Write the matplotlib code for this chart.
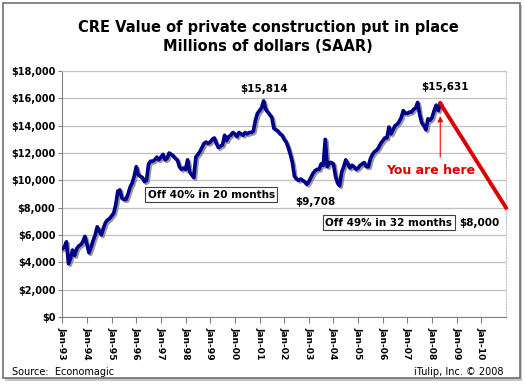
import numpy as np
import matplotlib.pyplot as plt
import matplotlib.patheffects as pe
from matplotlib.patches import Rectangle

# monthly values, Jan-93 .. May-08 (millions of dollars, SAAR)
v1993 = [5000, 5100, 5500, 3900, 4300, 4900, 4500, 5000, 5200, 5300, 5500, 5900]
v1994 = [5300, 4700, 5100, 5600, 6000, 6600, 6300, 6000, 6500, 6900, 7100, 7200]
v1995 = [7400, 7600, 8200, 9200, 9300, 8700, 8600, 8600, 9000, 9500, 9800, 10300]
v1996 = [11000, 10400, 10300, 10200, 9900, 10000, 11200, 11400, 11400, 11500, 11700, 11500]
v1997 = [11700, 11900, 11500, 11600, 12000, 11900, 11800, 11600, 11500, 11000, 10800, 10900]
v1998 = [10800, 11500, 10600, 10400, 10200, 11700, 11900, 12100, 12400, 12700, 12800, 12700]
v1999 = [12800, 13000, 13100, 12700, 12400, 12500, 12600, 13300, 12900, 13200, 13300, 13500]
v2000 = [13400, 13200, 13500, 13400, 13300, 13500, 13400, 13500, 13500, 13600, 14400, 14900]
v2001 = [15100, 15300, 15814, 15200, 15000, 14800, 14600, 13800, 13700, 13600, 13400, 13300]
v2002 = [13000, 12800, 12400, 11900, 11300, 10300, 10100, 10000, 10100, 10000, 9900, 9708]
v2003 = [9900, 10200, 10500, 10700, 10800, 10800, 11200, 11100, 13000, 11000, 11300, 11300]
v2004 = [11200, 10300, 9800, 9600, 10600, 11000, 11500, 11200, 10900, 11100, 11000, 10800]
v2005 = [10900, 11100, 11200, 11300, 11000, 11000, 11600, 11900, 12100, 12200, 12400, 12700]
v2006 = [12900, 13100, 13100, 13900, 13400, 13700, 14000, 14100, 14300, 14600, 15100, 14900]
v2007 = [14900, 15000, 15000, 15200, 15300, 15700, 14800, 14200, 14000, 13700, 14500, 14400]
v2008 = [14600, 15100, 15500, 15100, 15631]

values = (v1993 + v1994 + v1995 + v1996 + v1997 + v1998 + v1999 + v2000 +
          v2001 + v2002 + v2003 + v2004 + v2005 + v2006 + v2007 + v2008)
months = np.arange(len(values))

# projection: 15,631 down to 8,000 over 32 months
proj_months = [len(values) - 1, len(values) - 1 + 32]
proj_values = [15631, 8000]

year_labels = ['Jan-%02d' % (y % 100) for y in range(1993, 2011)]
y_ticks = list(range(0, 18001, 2000))

fig = plt.figure(figsize=(5.25, 3.84), dpi=100)
W, H = 525, 384

# outer frame with shadow
fig.patches.append(Rectangle((5 / W, 1 - 381 / H), 517 / W, 376 / H, transform=fig.transFigure,
                             facecolor='#c8c8c8', edgecolor='none', zorder=0))
fig.patches.append(Rectangle((3 / W, 1 - 378 / H), 517 / W, 375 / H, transform=fig.transFigure,
                             facecolor='white', edgecolor='#707070', linewidth=1.2, zorder=1))

ax = fig.add_axes([62.3 / W, 1 - 317 / H, (506 - 62.3) / W, (317 - 71) / H])
ax.set_zorder(2)
ax.set_xlim(0, proj_months[1])
ax.set_ylim(0, 18000)

ax.grid(axis='y', color='#c0c0c0', linewidth=0.9)
ax.set_axisbelow(True)

shadow = [pe.SimpleLineShadow(offset=(1.2, -1.2), shadow_color='#808080', alpha=0.8), pe.Normal()]
ax.plot(months, values, color='#00008b', linewidth=2.6, solid_joinstyle='round',
        path_effects=shadow, zorder=3)
ax.plot(proj_months, proj_values, color='#dd0000', linewidth=2.8, zorder=3, clip_on=False)

ax.set_yticks(y_ticks)
ax.set_yticklabels(['${:,}'.format(t) for t in y_ticks], fontsize=7, fontweight='bold')
ax.set_xticks(np.arange(0, 12 * len(year_labels), 12))
ax.set_xticklabels(year_labels, rotation=-90, fontsize=6.6, fontweight='bold')
ax.tick_params(axis='y', length=3, color='#808080', pad=2)
ax.tick_params(axis='x', length=4, color='#808080', pad=3)

for s in ['top', 'right']:
    ax.spines[s].set_color('#c0c0c0')
    ax.spines[s].set_linestyle(':')
for s in ['left', 'bottom']:
    ax.spines[s].set_color('#808080')

# annotations
ax.text(98, 16300, '$15,814', ha='center', va='bottom', fontsize=7.5, fontweight='bold')
ax.text(123, 8400, '$9,708', ha='center', va='center', fontsize=7.5, fontweight='bold')
ax.text(186.5, 16500, '$15,631', ha='center', va='bottom', fontsize=7.5, fontweight='bold')
ax.text(203, 6900, '$8,000', ha='center', va='center', fontsize=7.5, fontweight='bold')
box = dict(boxstyle='square,pad=0.25', facecolor='white', edgecolor='#404040', linewidth=0.8)
ax.text(72.5, 8950, 'Off 40% in 20 months', ha='center', va='center', fontsize=7.5,
        fontweight='bold', bbox=box)
ax.text(159, 6900, 'Off 49% in 32 months', ha='center', va='center', fontsize=7.5,
        fontweight='bold', bbox=box)
ax.annotate('', xy=(184, 14900), xytext=(184, 11500),
            arrowprops=dict(arrowstyle='-|>', color='#ff0000', lw=0.8, mutation_scale=8))
ax.text(179.5, 10700, 'You are here', ha='center', va='center', fontsize=9,
        fontweight='bold', color='#dd0000')

fig.text(268 / W, 1 - 37 / H, 'CRE Value of private construction put in place\nMillions of dollars (SAAR)',
         ha='center', va='center', fontsize=10.5, fontweight='bold', linespacing=1.3)
fig.text(12 / W, 1 - 372 / H, 'Source:  Economagic', ha='left', va='center', fontsize=7)
fig.text(503 / W, 1 - 372 / H, 'iTulip, Inc. \u00a9 2008', ha='right', va='center', fontsize=7)

fig.savefig('out.png', dpi=100)
